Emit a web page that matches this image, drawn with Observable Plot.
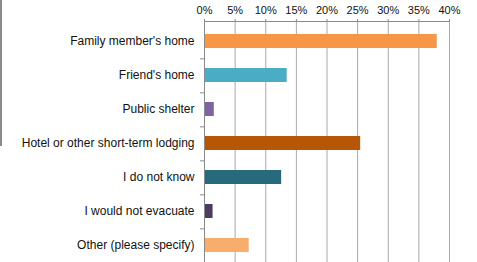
<!DOCTYPE html>
<html>
<head>
<meta charset="utf-8">
<script src="https://cdn.jsdelivr.net/npm/d3@7"></script>
<script src="https://cdn.jsdelivr.net/npm/@observablehq/plot@0.6"></script>
<style>
  html, body { margin: 0; padding: 0; background: #fff; overflow: hidden; }
  #wrap { position: relative; width: 477px; height: 262px; }
  #edge { position: absolute; left: 0; top: 0; width: 2px; height: 146px; background: #8a8a8a; }
  svg { font-family: "Liberation Sans", Arial, sans-serif; }
</style>
</head>
<body>
<div id="wrap"><div id="edge"></div></div>
<script>
const categories = [
  "Family member's home",
  "Friend's home",
  "Public shelter",
  "Hotel or other short-term lodging",
  "I do not know",
  "I would not evacuate",
  "Other (please specify)"
];
const values = [0.380, 0.135, 0.016, 0.255, 0.126, 0.014, 0.073];
const colors = ["#F79646", "#4BACC6", "#8064A2", "#B65708", "#276A7C", "#4D3B62", "#F9AD6C"];
const xTicks = [0, 0.05, 0.10, 0.15, 0.20, 0.25, 0.30, 0.35, 0.40];

const data = categories.map((c, i) => ({category: c, value: values[i], color: colors[i]}));

const width = 477, height = 264, marginTop = 21, marginBottom = 0, marginLeft = 204, marginRight = 28;
const step = (height - marginTop - marginBottom) / categories.length;

const chart = Plot.plot({
  width, height, marginTop, marginBottom, marginLeft, marginRight,
  style: {fontFamily: "Liberation Sans, Arial, sans-serif", background: "white", color: "#111"},
  x: {domain: [0, 0.4], axis: null, label: null},
  y: {domain: categories, paddingInner: 0.6, paddingOuter: 0.3, axis: null, label: null},
  marks: [
    Plot.ruleX(xTicks.slice(1), {stroke: "#a8a8a8", strokeWidth: 1, strokeOpacity: 1}),
    Plot.barX(data, {x: "value", y: "category", fill: "color"}),
    Plot.frame({anchor: "top", stroke: "#8a8a8a"}),
    Plot.ruleX([0], {stroke: "#8a8a8a"}),
    Plot.axisX({anchor: "top", label: null, ticks: xTicks, tickFormat: d3.format(".0%"), tickSize: 3, tickPadding: 5, fontSize: 11, stroke: "#8a8a8a", strokeOpacity: 1, fill: "#111"}),
    Plot.axisY({anchor: "left", label: null, tickSize: 0, tickPadding: 10, fontSize: 12, fill: "#111"}),
    Plot.axisY({anchor: "left", label: null, tickSize: 4, tickFormat: () => "", dy: step / 2, stroke: "#8a8a8a", strokeOpacity: 1})
  ]
});
document.getElementById("wrap").appendChild(chart);
</script>
</body>
</html>
